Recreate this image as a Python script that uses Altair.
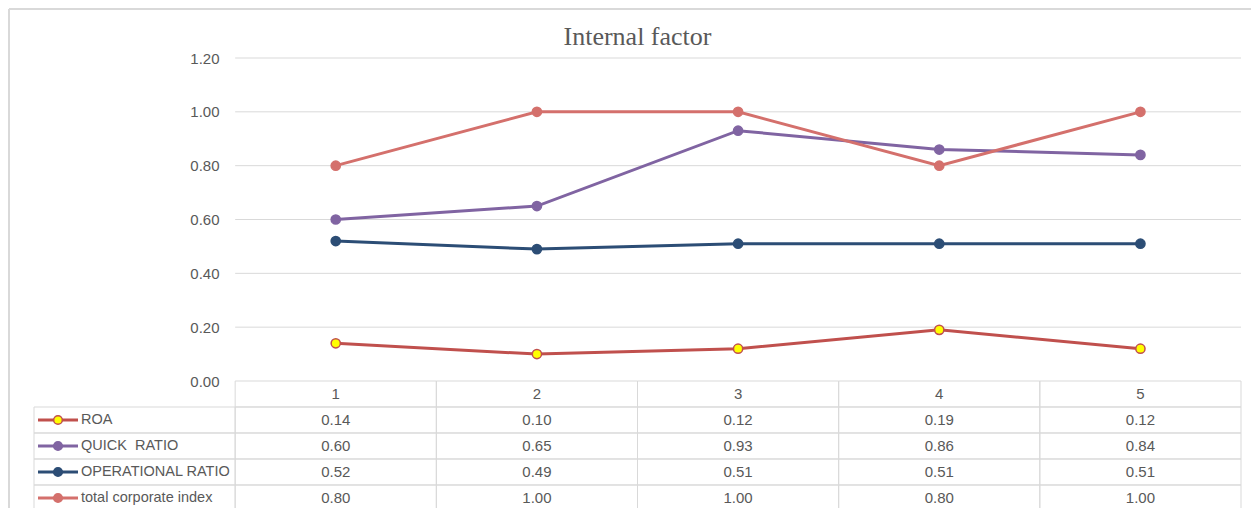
import altair as alt
import pandas as pd

# ---------------- data ----------------
categories = [1, 2, 3, 4, 5]
series_names = ["ROA", "QUICK\u00a0 RATIO", "OPERATIONAL RATIO", "total corporate index"]
roa = [0.14, 0.10, 0.12, 0.19, 0.12]
quick_ratio = [0.60, 0.65, 0.93, 0.86, 0.84]
operational_ratio = [0.52, 0.49, 0.51, 0.51, 0.51]
total_index = [0.80, 1.00, 1.00, 0.80, 1.00]
y_ticks = [0.0, 0.2, 0.4, 0.6, 0.8, 1.0, 1.2]
chart_title = "Internal factor"

line_colors = ["#C0504D", "#8064A2", "#2C4D75", "#D4706C"]
marker_fills = ["#FFFF00", "#8064A2", "#2C4D75", "#D4706C"]

# ---------------- layout / style ----------------
W = 1207          # table width (legend column + 5 data columns)
PLOT_H = 323
ROW_H = 26
FONT = "Liberation Sans"
TXT = "#595959"
GRID = "#D9D9D9"

all_values = [roa, quick_ratio, operational_ratio, total_index]
header_key = "header"
row_keys = [header_key] + series_names
col_keys = [0] + categories          # 0 = legend column

long_rows = []
for name, vals in zip(series_names, all_values):
    for c, v in zip(categories, vals):
        long_rows.append({"series": name, "cat": c, "value": v})
df = pd.DataFrame(long_rows)

x_domain = [col_keys[0] - 0.5, categories[-1] + 0.5]
xscale = alt.Scale(domain=x_domain, nice=False, zero=False)
yscale = alt.Scale(domain=[y_ticks[0], y_ticks[-1]], nice=False)
stroke_scale = alt.Scale(domain=series_names, range=line_colors)
fill_scale = alt.Scale(domain=series_names, range=marker_fills)

# ---------------- top: line chart ----------------
grid_df = pd.DataFrame({"v": y_ticks[1:], "x0": categories[0] - 0.5, "x1": categories[-1] + 0.5})
yaxis = alt.Axis(values=y_ticks, format=".2f", grid=False, domain=False, ticks=False,
                 labelPadding=16, offset=-round(W / len(col_keys)), labelFont=FONT,
                 labelFontSize=15, labelColor=TXT, title=None)

grid = alt.Chart(grid_df).mark_rule(color=GRID, strokeWidth=1).encode(
    x=alt.X("x0:Q", scale=xscale, axis=None),
    x2="x1:Q",
    y=alt.Y("v:Q", scale=yscale, axis=yaxis),
)
lines = alt.Chart(df).mark_line(strokeWidth=3).encode(
    x=alt.X("cat:Q", scale=xscale, axis=None),
    y=alt.Y("value:Q", scale=yscale),
    stroke=alt.Stroke("series:N", scale=stroke_scale, legend=None),
)
points = alt.Chart(df).mark_circle(size=85, opacity=1, strokeWidth=1.5).encode(
    x=alt.X("cat:Q", scale=xscale, axis=None),
    y=alt.Y("value:Q", scale=yscale),
    stroke=alt.Stroke("series:N", scale=stroke_scale, legend=None),
    fill=alt.Fill("series:N", scale=fill_scale, legend=None),
)
top = alt.layer(grid, lines, points).properties(
    width=W, height=PLOT_H,
    title=alt.TitleParams(chart_title, font="Liberation Serif", fontSize=26, fontWeight="normal",
                          color=TXT, anchor="middle", frame="group", offset=1),
)

# ---------------- bottom: data table ----------------
cells = pd.DataFrame([
    {"row": r, "x0": c - 0.5, "x1": c + 0.5}
    for r in row_keys for c in col_keys if not (r == header_key and c == col_keys[0])
])
texts = [{"row": header_key, "col": c, "label": str(c)} for c in categories]
for name, vals in zip(series_names, all_values):
    for c, v in zip(categories, vals):
        texts.append({"row": name, "col": c, "label": f"{v:.2f}"})
texts = pd.DataFrame(texts)
legend_df = pd.DataFrame({"row": series_names, "series": series_names,
                          "x": [col_keys[0] - 0.5] * len(series_names)})

tyscale = alt.Scale(domain=row_keys, type="band", paddingInner=0, paddingOuter=0)

cell_rects = alt.Chart(cells).mark_rect(fillOpacity=0, stroke=GRID, strokeWidth=1).encode(
    x=alt.X("x0:Q", scale=xscale, axis=None), x2="x1:Q",
    y=alt.Y("row:N", scale=tyscale, axis=None),
)
cell_text = alt.Chart(texts).mark_text(font=FONT, fontSize=15, color=TXT, align="center",
                                       baseline="middle").encode(
    x=alt.X("col:Q", scale=xscale, axis=None),
    y=alt.Y("row:N", scale=tyscale, axis=None, bandPosition=0.5),
    text="label:N",
)
leg_line = alt.Chart(legend_df).mark_rule(strokeWidth=3, xOffset=4, x2Offset=44).encode(
    x=alt.X("x:Q", scale=xscale, axis=None), x2="x:Q",
    y=alt.Y("row:N", scale=tyscale, axis=None, bandPosition=0.5),
    stroke=alt.Stroke("series:N", scale=stroke_scale, legend=None),
)
leg_pt = alt.Chart(legend_df).mark_circle(size=75, opacity=1, strokeWidth=1.5, xOffset=24).encode(
    x=alt.X("x:Q", scale=xscale, axis=None),
    y=alt.Y("row:N", scale=tyscale, axis=None, bandPosition=0.5),
    stroke=alt.Stroke("series:N", scale=stroke_scale, legend=None),
    fill=alt.Fill("series:N", scale=fill_scale, legend=None),
)
leg_text = alt.Chart(legend_df).mark_text(font=FONT, fontSize=14.5, color=TXT, align="left",
                                          baseline="middle", dx=47).encode(
    x=alt.X("x:Q", scale=xscale, axis=None),
    y=alt.Y("row:N", scale=tyscale, axis=None, bandPosition=0.5),
    text="series:N",
)
# outer chart-area border (decoration)
border_top = alt.Chart(legend_df).mark_rule(color=GRID, strokeWidth=1.5).encode(
    x=alt.value(-25), x2=alt.value(1217), y=alt.value(-372))
border_left = alt.Chart(legend_df).mark_rule(color=GRID, strokeWidth=1.5).encode(
    x=alt.value(-25), y=alt.value(-372), y2=alt.value(len(row_keys) * ROW_H))

bottom = alt.layer(border_top, border_left, cell_rects, leg_line, leg_pt, leg_text, cell_text).properties(
    width=W, height=len(row_keys) * ROW_H)

chart = alt.vconcat(top, bottom, spacing=0, bounds="flush").properties(
    padding={"left": 0, "top": 0, "right": 0, "bottom": 0}
).configure_view(strokeWidth=0)

chart.save("out.html", embed_options={"renderer": "svg", "actions": False})
